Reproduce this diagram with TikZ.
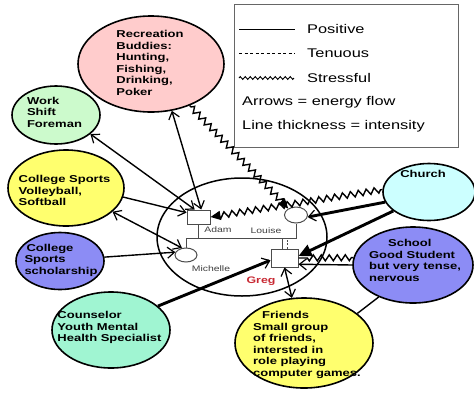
\documentclass[tikz,border=0pt]{standalone}
\usepackage{fontspec}
\setmainfont{Liberation Sans}
\newfontfamily\lab[FakeStretch=1.3]{Liberation Sans}
\usetikzlibrary{shapes.geometric,arrows.meta,decorations.pathmorphing}
\definecolor{cpink}{RGB}{255,204,204}
\definecolor{cgreen}{RGB}{204,250,204}
\definecolor{cyel}{RGB}{255,255,110}
\definecolor{cblue}{RGB}{140,140,245}
\definecolor{cteal}{RGB}{160,245,210}
\definecolor{ccyan}{RGB}{204,255,255}
\definecolor{gregred}{RGB}{200,40,50}
\begin{document}
\begin{tikzpicture}[x=1pt,y=-1pt,
  bub/.style={ellipse,draw=black,line width=1.6pt,inner sep=0pt},
  txt/.style={align=left,inner sep=0pt,font=\lab\bfseries\fontsize{10}{11.5}\selectfont},
  legt/.style={anchor=west,inner sep=0pt,font=\lab\fontsize{12.6}{14}\selectfont},
  famt/.style={inner sep=0pt,text=black!75,font=\lab\fontsize{8}{9}\selectfont},
  fam/.style={draw=black!70,line width=1pt},
  con/.style={draw=black,line width=1.4pt},
  thk/.style={draw=black,line width=2.9pt},
  oarr/.style={-{Straight Barb[length=7pt,width=11pt,line width=1.2pt]}},
  barr/.style={{Straight Barb[length=7pt,width=11pt,line width=1.2pt]}-{Straight Barb[length=7pt,width=11pt,line width=1.2pt]}},
  farr/.style={-{Triangle[length=10pt,width=9pt]}},
  bigarr/.style={-{Triangle[length=13pt,width=12pt]}},
  zz/.style={decorate,decoration={zigzag,segment length=8pt,amplitude=3pt,pre length=2pt,post length=8pt}}
]
\useasboundingbox (0,0) rectangle (474,400);
\fill[white] (0,0) rectangle (474,400);

% outer bubbles
\node[bub,fill=cpink,minimum width=146pt,minimum height=96pt] (rec) at (151,64) {};
\node[txt] (rect) at (150,63) {Recreation\\Buddies:\\Hunting,\\Fishing,\\Drinking,\\Poker};
\node[bub,fill=cgreen,minimum width=88pt,minimum height=58pt] (work) at (56,115) {};
\node[txt] (workt) at (54.5,112) {Work\\Shift\\Foreman};
\node[bub,fill=cyel,minimum width=116pt,minimum height=76pt] (cs) at (66,188) {};
\node[txt] (cst) at (64.5,190.5) {College Sports\\Volleyball,\\Softball};
\node[bub,fill=cblue,minimum width=88pt,minimum height=57pt] (sch) at (60,261) {};
\node[txt] (scht) at (61,260) {\hspace*{2pt}College\\Sports\\scholarship};
\node[bub,fill=cteal,minimum width=118pt,minimum height=76pt] (coun) at (111,330) {};
\node[txt] (count) at (109.5,327.5) {Counselor\\Youth Mental\\Health Specialist};
\node[bub,fill=ccyan,minimum width=92pt,minimum height=57pt] (church) at (429,192) {};
\node[txt] (churcht) at (423,174) {Church};
\node[bub,fill=cblue,minimum width=120pt,minimum height=76pt] (school) at (413,265) {};
\node[txt] (schoolt) at (415,260.5) {\hspace*{19pt}School\\Good Student\\but very tense,\\nervous};
\node[bub,fill=cyel,minimum width=138pt,minimum height=90pt] (friends) at (304,343) {};
\node[txt] (friendst) at (307,345) {\hspace*{9pt}Friends\\Small group\\of friends,\\intersted in\\role playing\\computer games.};

% legend
\node[draw=black!60,line width=1pt,minimum width=224pt,minimum height=143pt,inner sep=0pt] (leg) at (346,75.5) {};
\node[legt] (lpos) at (307,29) {Positive};
\node[legt] (lten) at (307,53) {Tenuous};
\node[legt] (lstr) at (307,78) {Stressful};
\node[legt] (larr) at (242,102) {Arrows = energy flow};
\node[legt] (lthk) at (242,126) {Line thickness = intensity};
\draw[line width=1pt] ([xshift=-68pt]lpos.west) -- ([xshift=-12pt]lpos.west);
\draw[line width=1pt,dash pattern=on 3pt off 2.5pt] ([xshift=-68pt]lten.west) -- ([xshift=-12pt]lten.west);
\draw[line width=0.9pt,decorate,decoration={zigzag,segment length=5pt,amplitude=1.4pt}] ([xshift=-68pt]lstr.west) -- ([xshift=-13pt]lstr.west);

% family
\node[ellipse,draw=black,line width=1.5pt,minimum width=170pt,minimum height=118pt,inner sep=0pt] (famc) at (242,237) {};
\node[fam,fill=white,rectangle,minimum width=23pt,minimum height=14pt,inner sep=0pt] (adam) at (198.5,217) {};
\node[fam,fill=white,ellipse,minimum width=23pt,minimum height=16pt,inner sep=0pt] (louise) at (296,215) {};
\node[fam,fill=white,ellipse,minimum width=22pt,minimum height=14pt,inner sep=0pt] (michelle) at (186,255) {};
\node[fam,fill=white,rectangle,minimum width=27pt,minimum height=18pt,inner sep=0pt] (greg) at (284.5,258) {};
\coordinate (mar) at (185,238);
\draw[fam] (michelle.north) -- (michelle.north |- mar) -- (louise.south |- mar) -- (louise.south);
\draw[fam] (adam.south) -- (adam.south |- mar);
\draw[fam] ([xshift=-2.5pt]greg.north) -- ([xshift=-2.5pt]greg.north |- mar);
\draw[fam,dash pattern=on 2pt off 1.5pt] ([xshift=2.5pt]greg.north) -- ([xshift=2.5pt]greg.north |- mar);
\node[famt] (adamt) at (218,230) {Adam};
\node[famt] (louiset) at (266,231) {Louise};
\node[famt] (michellet) at (211,269) {Michelle};
\node[inner sep=0pt,text=gregred,font=\lab\bfseries\fontsize{9.5}{11}\selectfont] (gregt) at (261,281) {Greg};

% connectors
\draw[con,barr] (rec.-66.8) -- (adam.70);
\draw[con,zz,farr] (rec.-47.8) -- (louise.140);
\draw[con,barr] (work.-29.7) -- (adam.117);
\draw[con,oarr] (cs.-9.6) -- (adam.160);
\draw[con,barr] (cs.-27) -- (michelle.120);
\draw[con,oarr] (sch.5) -- (michelle.165);
\draw[thk,oarr] (coun.27) -- (greg.189);
\draw[thk,oarr] (church.-167.7) -- (louise.-10);
\draw[con,zz,farr] (church.177.5) -- (adam.east);
\draw[con,zz] (school.173.5) -- (greg.east);
\draw[con,oarr] (school.180) -- (greg.-24);
\draw[thk,bigarr] (church.-152) -- (greg.8.4);
\draw[con,barr] (greg.south) -- (friends.105);
\draw[con] (school.-137.6) -- (friends.29);
\end{tikzpicture}
\end{document}
